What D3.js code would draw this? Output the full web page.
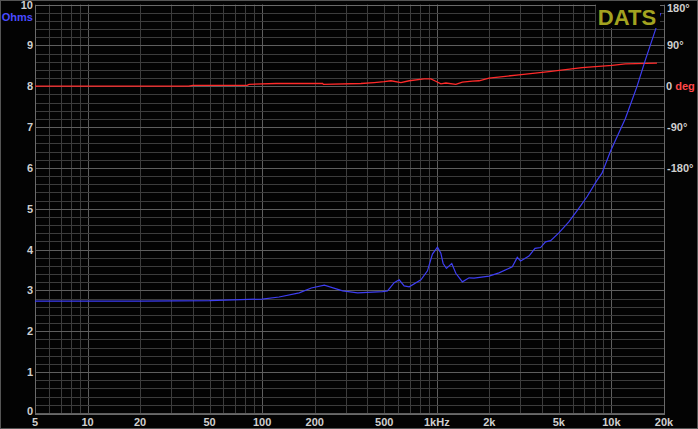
<!DOCTYPE html>
<html>
<head>
<meta charset="utf-8">
<script src="https://cdn.jsdelivr.net/npm/d3@7"></script>
<style>
  body { margin: 0; background: #000; }
  svg { display: block; }
  text { font-family: "Liberation Sans", Arial, sans-serif; font-weight: bold; font-size: 11px; }
</style>
</head>
<body>
<div id="chart"></div>
<script>
// impedance (blue)
var impFreq = [5, 10, 20, 50, 100, 125, 163, 191, 227, 289, 352, 489, 522, 570, 609, 650, 695,
  811, 884, 944, 1009, 1055, 1087, 1135, 1218, 1285, 1401, 1530, 1634, 1991, 2270, 2705, 2890,
  3020, 3370, 3650, 3930, 4195, 4485, 5000, 5700, 6500, 7260, 8280, 8830, 9860, 12020, 14000,
  15630, 17860, 19140];
var impOhms = [2.74, 2.74, 2.74, 2.75, 2.79, 2.84, 2.94, 3.06, 3.13, 2.99, 2.94, 2.97, 2.99, 3.19, 3.26, 3.11, 3.09,
  3.26, 3.48, 3.89, 4.06, 3.91, 3.66, 3.54, 3.66, 3.42, 3.21, 3.31, 3.30, 3.35, 3.43, 3.58, 3.81,
  3.72, 3.84, 4.03, 4.05, 4.19, 4.22, 4.41, 4.68, 5.01, 5.30, 5.70, 5.87, 6.40, 7.21, 7.99,
  8.64, 9.38, 9.79];

// phase (red), degrees
var phaseFreq = [5, 38, 40, 82, 84, 120, 222, 224, 368, 438, 500, 546, 623, 695, 846, 925, 986,
  1055, 1127, 1285, 1401, 1598, 1745, 1991, 2953, 4385, 6790, 10090, 12020, 18230];
var phaseDeg = [0, 0, 2, 2, 4, 6, 6, 4, 6, 8, 10, 12, 8, 12, 16, 16, 11,
  5, 7, 4, 9, 11, 12, 18, 25, 32, 41, 46, 49, 51];

var xTickValues = [5, 10, 20, 50, 100, 200, 500, 1000, 2000, 5000, 10000, 20000];
var xTickLabels = ["5", "10", "20", "50", "100", "200", "500", "1kHz", "2k", "5k", "10k", "20k"];
var yTickValues = [0, 1, 2, 3, 4, 5, 6, 7, 8, 9, 10];
var phaseTickValues = [180, 90, -90, -180];
var phaseTickLabels = ["180°", "90°", "-90°", "-180°"];

var width = 698, height = 429;
var plotLeft = 35, plotRight = 664, plotTop = 4.5, plotBottom = 413;

var svg = d3.select("#chart").append("svg")
  .attr("width", width)
  .attr("height", height);

svg.append("rect")
  .attr("x", 0.5).attr("y", 0.5)
  .attr("width", width - 1).attr("height", height - 1)
  .attr("fill", "#030303")
  .attr("stroke", "#555");

var x = d3.scaleLog().domain([5, 20000]).range([plotLeft, plotRight]);
var y = d3.scaleLinear().domain([0, 10]).range([plotBottom, plotTop]);
var yPhase = d => y(8 + d / 90);

// vertical grid: 5..9, 10..90, ...
var vGrid = [];
[1, 10, 100, 1000, 10000].forEach(function (dec) {
  for (var m = 1; m <= 9; m++) {
    var f = m * dec;
    if (f >= 5 && f <= 20000) vGrid.push(f);
  }
});
svg.append("g").selectAll("line")
  .data(vGrid)
  .enter().append("line")
  .attr("x1", d => Math.round(x(d)) + 0.5)
  .attr("x2", d => Math.round(x(d)) + 0.5)
  .attr("y1", plotTop)
  .attr("y2", plotBottom)
  .attr("stroke", d => [10, 100, 1000, 10000].indexOf(d) >= 0 ? "#5e5e5e" : "#3c3c3c")
  .attr("stroke-width", 1);

// horizontal grid every 0.2 ohm
var hGrid = d3.range(0, 51).map(i => i / 5);
svg.append("g").selectAll("line")
  .data(hGrid)
  .enter().append("line")
  .attr("x1", plotLeft)
  .attr("x2", plotRight)
  .attr("y1", d => Math.round(y(d)) + 0.5)
  .attr("y2", d => Math.round(y(d)) + 0.5)
  .attr("stroke", d => Math.abs(d - Math.round(d)) < 1e-6 ? "#5e5e5e" : "#3c3c3c")
  .attr("stroke-width", 1);

// plot frame
svg.append("rect")
  .attr("x", plotLeft + 0.5).attr("y", Math.round(plotTop) + 0.5)
  .attr("width", Math.round(plotRight - plotLeft)).attr("height", Math.round(plotBottom - plotTop))
  .attr("fill", "none")
  .attr("stroke", "#6a6a6a");

// x axis labels
svg.append("g").selectAll("text")
  .data(xTickValues)
  .enter().append("text")
  .attr("x", d => x(d))
  .attr("y", 426)
  .attr("text-anchor", "middle")
  .attr("fill", "#cfcfcf")
  .text((d, i) => xTickLabels[i]);

// y axis labels
svg.append("g").selectAll("text")
  .data(yTickValues)
  .enter().append("text")
  .attr("x", 33)
  .attr("y", d => Math.min(y(d) + 4, 415))
  .attr("text-anchor", "end")
  .attr("fill", "#cfcfcf")
  .text(d => d);

svg.append("text")
  .attr("x", 33).attr("y", 21)
  .attr("text-anchor", "end")
  .attr("fill", "#4a4aff")
  .text("Ohms");

// right phase labels
svg.append("g").selectAll("text")
  .data(phaseTickValues)
  .enter().append("text")
  .attr("x", 667)
  .attr("y", d => Math.max(yPhase(d) + 4, 12))
  .attr("fill", "#cfcfcf")
  .text((d, i) => phaseTickLabels[i]);

var zeroLabel = svg.append("text")
  .attr("x", 666)
  .attr("y", yPhase(0) + 4);
zeroLabel.append("tspan").attr("fill", "#cfcfcf").text("0 ");
zeroLabel.append("tspan").attr("fill", "#ff4848").text("deg");

// curves
var phaseLine = d3.line()
  .x(d => x(d[0]))
  .y(d => yPhase(d[1]));
svg.append("path")
  .datum(phaseFreq.map((f, i) => [f, phaseDeg[i]]))
  .attr("d", phaseLine)
  .attr("fill", "none")
  .attr("stroke", "#ff2a2a")
  .attr("stroke-width", 1.3);

var impLine = d3.line()
  .x(d => x(d[0]))
  .y(d => y(d[1]));
svg.append("path")
  .datum(impFreq.map((f, i) => [f, impOhms[i]]))
  .attr("d", impLine)
  .attr("fill", "none")
  .attr("stroke", "#3e3ef2")
  .attr("stroke-width", 1.2);

// DATS logo
svg.append("rect")
  .attr("x", 596).attr("y", 1)
  .attr("width", 64).attr("height", 27)
  .attr("fill", "#030303");
svg.append("text")
  .attr("x", 627).attr("y", 25)
  .attr("text-anchor", "middle")
  .attr("fill", "#a3a320")
  .style("font-size", "22px")
  .text("DATS");
</script>
</body>
</html>
